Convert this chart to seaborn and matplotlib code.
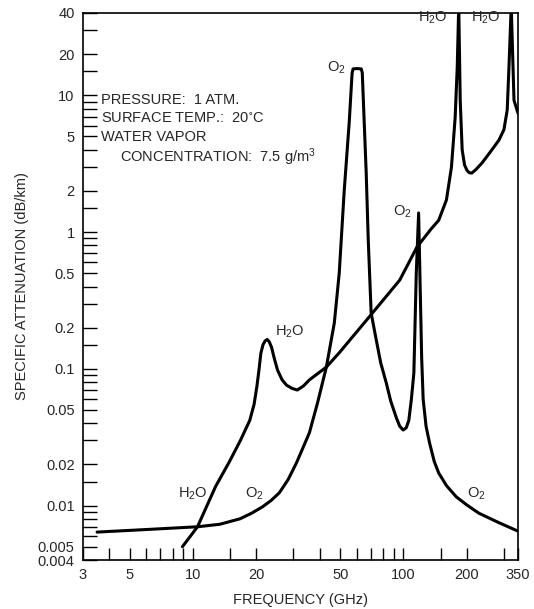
import matplotlib
matplotlib.use("Agg")
import matplotlib.pyplot as plt
import seaborn as sns
import pandas as pd
from matplotlib.ticker import FixedLocator, NullFormatter

# ---- data ----
o2_freq = [3.5, 6.2, 10.5, 13.4, 16.7, 19.0, 21.4, 23.5, 25.7, 28.3, 31.0, 35.7,
           39.0, 43.0, 46.9, 49.5, 52.3, 55.2, 57.0, 57.6, 60.0, 63.0, 63.7, 66.5,
           68.0, 70.2, 74.2, 78.0, 82.8, 87.0, 92.4, 96.0, 99.6, 103, 106, 109,
           112, 115, 118, 120, 122, 124, 128, 133, 140, 147, 160, 178, 200, 228,
           284, 350]
o2_val = [0.0064, 0.0067, 0.0070, 0.0073, 0.0080, 0.0088, 0.0098, 0.0109, 0.0124,
          0.0155, 0.0205, 0.034, 0.056, 0.103, 0.216, 0.50, 2.03, 6.3, 14.6, 15.6,
          15.7, 15.6, 14.6, 2.7, 0.875, 0.256, 0.163, 0.11, 0.079, 0.058, 0.044,
          0.038, 0.0357, 0.037, 0.042, 0.060, 0.093, 0.50, 1.38, 0.40, 0.12,
          0.06, 0.038, 0.0287, 0.021, 0.0173, 0.0140, 0.0116, 0.0101, 0.0088,
          0.0075, 0.0065]

h2o_freq = [8.9, 10.5, 12.8, 14.9, 16.8, 18.6, 19.5, 20.1, 20.6, 21.0, 21.5, 22.0,
            22.5, 23.0, 23.6, 24.3, 25.2, 26.5, 27.8, 29.5, 31.3, 33.5, 35.7,
            43.0, 49.5, 70.0, 96.0, 116, 135, 147, 160, 169, 176, 180, 183, 186,
            190, 195, 200, 205, 211, 220, 236, 260, 284, 300, 311, 317, 325, 335,
            350]
h2o_val = [0.0050, 0.0070, 0.0138, 0.0210, 0.030, 0.042, 0.055, 0.074, 0.100,
           0.130, 0.150, 0.160, 0.164, 0.158, 0.144, 0.120, 0.098, 0.083, 0.076,
           0.072, 0.070, 0.075, 0.083, 0.103, 0.131, 0.248, 0.446, 0.78, 1.05,
           1.22, 1.72, 2.99, 6.9, 16.0, 45.0, 9.2, 4.0, 3.1, 2.84, 2.72, 2.70,
           2.85, 3.2, 3.9, 4.7, 5.6, 7.8, 16.0, 45.0, 9.2, 7.4]

x_label_ticks = [3, 5, 10, 20, 50, 100, 200, 350]
x_minor_ticks = [4, 6, 7, 8, 9, 15, 30, 40, 60, 70, 80, 90, 150, 300]
y_label_ticks = [0.004, 0.005, 0.01, 0.02, 0.05, 0.1, 0.2, 0.5, 1, 2, 5, 10, 20, 40]
y_label_text = ["0.004", "0.005", "0.01", "0.02", "0.05", "0.1", "0.2", "0.5",
                "1", "2", "5", "10", "20", "40"]
y_minor_ticks = [0.006, 0.007, 0.008, 0.009, 0.015, 0.03, 0.04, 0.06, 0.07, 0.08,
                 0.09, 0.15, 0.3, 0.4, 0.6, 0.7, 0.8, 0.9, 1.5, 3, 4, 6, 7, 8, 9,
                 15, 30]

# ---- style ----
sns.set_style("ticks")
plt.rcParams["font.family"] = ["Liberation Sans", "DejaVu Sans"]
plt.rcParams["mathtext.default"] = "regular"

fig = plt.figure(figsize=(5.34, 6.09), dpi=100)
ax = fig.add_axes([83 / 534, 1 - 560 / 609, (518 - 83) / 534, (560 - 13) / 609])

df_o2 = pd.DataFrame({"f": o2_freq, "a": o2_val})
df_h2o = pd.DataFrame({"f": h2o_freq, "a": h2o_val})
sns.lineplot(data=df_o2, x="f", y="a", ax=ax, sort=False, estimator=None,
             color="black", linewidth=2.2)
sns.lineplot(data=df_h2o, x="f", y="a", ax=ax, sort=False, estimator=None,
             color="black", linewidth=2.2)
for ln in ax.lines:
    ln.set_solid_joinstyle("round")
    ln.set_solid_capstyle("round")

ax.set_xscale("log")
ax.set_yscale("log")
ax.set_xlim(3, 350)
ax.set_ylim(0.004, 40)

ax.xaxis.set_major_locator(FixedLocator(x_label_ticks))
ax.set_xticklabels([str(v) for v in x_label_ticks])
ax.xaxis.set_minor_locator(FixedLocator(x_minor_ticks))
ax.xaxis.set_minor_formatter(NullFormatter())
ax.yaxis.set_major_locator(FixedLocator(y_label_ticks))
ax.set_yticklabels(y_label_text)
ax.yaxis.set_minor_locator(FixedLocator(y_minor_ticks))
ax.yaxis.set_minor_formatter(NullFormatter())

ax.tick_params(axis="x", which="both", direction="in", length=8.5, width=1.0,
               labelsize=10.5, pad=6, color="black")
ax.tick_params(axis="y", which="both", direction="in", length=10, width=1.0,
               labelsize=10.5, pad=6, color="black")
for s in ax.spines.values():
    s.set_visible(True)
    s.set_linewidth(1.2)
    s.set_color("black")

ax.set_xlabel("FREQUENCY (GHz)", fontsize=10.5, labelpad=8)
ax.set_ylabel("SPECIFIC ATTENUATION (dB/km)", fontsize=10.5, labelpad=6)

# ---- annotations ----
fs = 10.5
ax.text(3.65, 9.2, "PRESSURE:  1 ATM.", fontsize=fs, va="center", ha="left")
ax.text(3.65, 6.8, "SURFACE TEMP.:  20$^{\\circ}$C", fontsize=fs, va="center", ha="left")
ax.text(3.65, 4.96, "WATER VAPOR", fontsize=fs, va="center", ha="left")
ax.text(4.49, 3.54, "CONCENTRATION:  7.5 g/m$^3$", fontsize=fs, va="center", ha="left")

ax.text(10.0, 0.0122, "H$_2$O", fontsize=fs, va="center", ha="center")
ax.text(19.6, 0.0122, "O$_2$", fontsize=fs, va="center", ha="center")
ax.text(28.8, 0.186, "H$_2$O", fontsize=fs, va="center", ha="center")
ax.text(47.9, 15.8, "O$_2$", fontsize=fs, va="center", ha="center")
ax.text(98.6, 1.40, "O$_2$", fontsize=fs, va="center", ha="center")
ax.text(137, 37, "H$_2$O", fontsize=fs, va="center", ha="center")
ax.text(247, 37, "H$_2$O", fontsize=fs, va="center", ha="center")
ax.text(223, 0.0122, "O$_2$", fontsize=fs, va="center", ha="center")

fig.savefig("out.png", dpi=100)
